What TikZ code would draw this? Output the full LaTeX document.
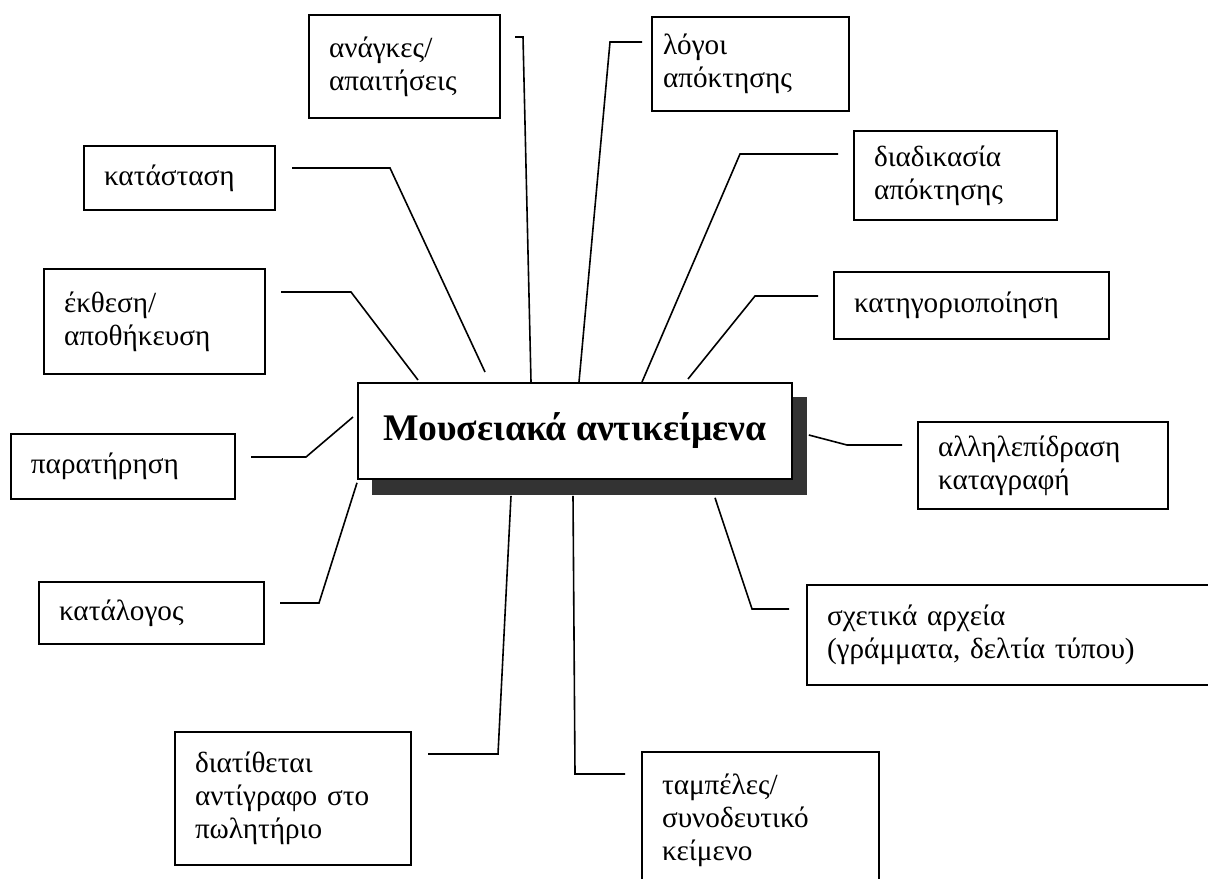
\documentclass[tikz,border=0pt]{standalone}
\usepackage{fontspec}
\setmainfont{Liberation Serif}
\usetikzlibrary{calc}
\tikzset{
  item/.style 2 args={draw, line width=1pt, anchor=north west, align=left,
    inner xsep=10pt, inner ysep=0pt, text width=#1, minimum height=#2,
    font=\fontsize{14.6}{16.5}\selectfont},
  link/.style={line width=0.8pt},
}

\begin{document}
\begin{tikzpicture}[x=0.5pt,y=-0.5pt]
  \useasboundingbox (0,0) rectangle (1208,878);
  \node[anchor=north west, fill=black!80, inner sep=0pt, minimum width=217.5pt, minimum height=49pt] (shadow) at (372,397) {};
  \node[anchor=north west, draw, fill=white, line width=0.9pt, inner sep=0pt, minimum width=217pt, minimum height=48pt,
    font=\fontsize{18.8}{22}\selectfont\bfseries] (main) at (357,382) {Μουσειακά αντικείμενα};

  \node[item={75.5pt}{51.5pt}] (anagkes) at (308,14) {ανάγκες/\\απαιτήσεις};
  \node[item={87.5pt}{47pt}, inner xsep=5.5pt] (logoi) at (651,16) {λόγοι\\απόκτησης};
  \node[item={81.5pt}{44.5pt}] (diadikasia) at (853,130) {διαδικασία\\απόκτησης};
  \node[item={117.5pt}{33.5pt}] (katigoria) at (833,271) {κατηγοριοποίηση};
  \node[item={75.5pt}{32pt}] (katastasi) at (83,145) {κατάσταση};
  \node[item={90.5pt}{52.5pt}] (ekthesi) at (43,268) {έκθεση/\\αποθήκευση};
  \node[item={92pt}{32.5pt}] (paratirisi) at (10,433) {παρατήρηση};
  \node[item={92.5pt}{31pt}] (katalogos) at (38,581) {κατάλογος};
  \node[item={98pt}{66.5pt}] (antigrafo) at (174,731) {διατίθεται\\αντίγραφο στο\\πωλητήριο};
  \node[item={98.5pt}{68pt}] (tampeles) at (641,751) {ταμπέλες/\\συνοδευτικό\\κείμενο};
  \node[item={187pt}{50pt}] (arxeia) at (806,584) {σχετικά αρχεία\\(γράμματα, δελτία τύπου)};
  \node[item={105pt}{43.5pt}] (allilep) at (917,421) {αλληλεπίδραση\\καταγραφή};

  \draw[link] ($(anagkes.north east)+(14,23)$) -- ++(8,0) -- ($(main.north west)+(174,0)$);
  \draw[link] ($(logoi.north west)+(-9,26)$) -- ++(-32,0) -- ($(main.north west)+(222,0)$);
  \draw[link] ($(diadikasia.north west)+(-15,24)$) -- ++(-98,0) -- ($(main.north west)+(285,0)$);
  \draw[link] ($(katigoria.north west)+(-15,25)$) -- ++(-63,0) -- ($(main.north west)+(331,-3)$);
  \draw[link] ($(katastasi.north east)+(16,23)$) -- ++(98,0) -- ($(main.north west)+(128,-10)$);
  \draw[link] ($(ekthesi.north east)+(15,24)$) -- ++(70,0) -- ($(main.north west)+(61,-2)$);
  \draw[link] ($(paratirisi.north east)+(15,24)$) -- ++(55,0) -- ($(main.north west)+(-4,35)$);
  \draw[link] ($(katalogos.north east)+(15,22)$) -- ++(39,0) -- ($(main.south west)+(0,3)$);
  \draw[link] ($(antigrafo.north east)+(16,23)$) -- ++(70,0) -- ($(shadow.south west)+(139,0)$);
  \draw[link] ($(tampeles.north west)+(-16,23)$) -- ++(-50,0) -- ($(shadow.south west)+(201,0)$);
  \draw[link] ($(arxeia.north west)+(-17,25)$) -- ++(-37,0) -- ($(shadow.south west)+(343,2)$);
  \draw[link] ($(allilep.north west)+(-15,24)$) -- ++(-55,0) -- ($(shadow.north east)+(1,38)$);
\end{tikzpicture}
\end{document}
